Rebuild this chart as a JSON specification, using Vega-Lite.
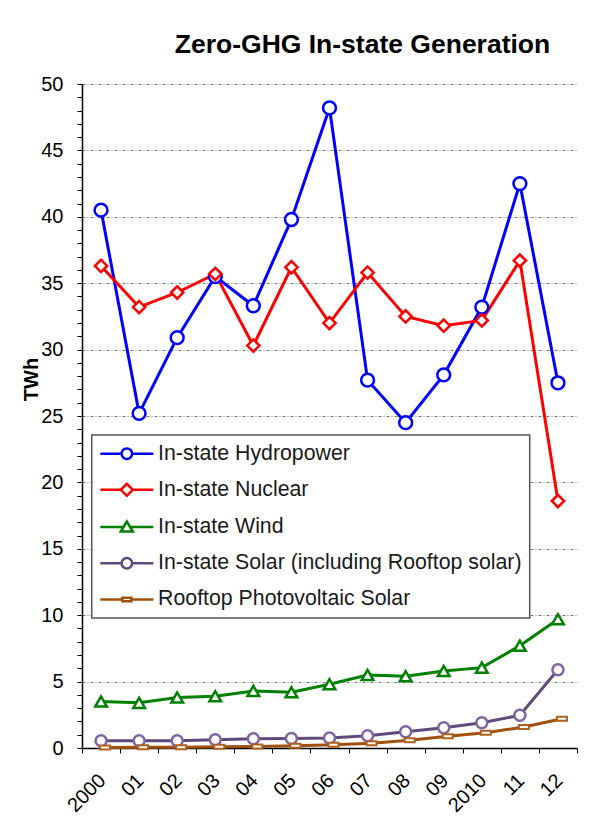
{
  "$schema": "https://vega.github.io/schema/vega-lite/v6.json",
  "width": 495,
  "height": 664,
  "autosize": {"type": "none"},
  "padding": {"left": 82, "top": 84, "right": 28, "bottom": 69},
  "background": "white",
  "title": {
    "text": "Zero-GHG In-state Generation",
    "font": "Liberation Sans",
    "fontSize": 26.5,
    "fontWeight": "bold",
    "color": "black",
    "anchor": "middle",
    "frame": "group",
    "dx": 33,
    "offset": 16
  },
  "data": {
    "values": [
      {"year": 2000, "series": "In-state Hydropower", "twh": 40.5},
      {"year": 2001, "series": "In-state Hydropower", "twh": 25.2},
      {"year": 2002, "series": "In-state Hydropower", "twh": 30.9},
      {"year": 2003, "series": "In-state Hydropower", "twh": 35.5},
      {"year": 2004, "series": "In-state Hydropower", "twh": 33.3},
      {"year": 2005, "series": "In-state Hydropower", "twh": 39.8},
      {"year": 2006, "series": "In-state Hydropower", "twh": 48.2},
      {"year": 2007, "series": "In-state Hydropower", "twh": 27.7},
      {"year": 2008, "series": "In-state Hydropower", "twh": 24.5},
      {"year": 2009, "series": "In-state Hydropower", "twh": 28.1},
      {"year": 2010, "series": "In-state Hydropower", "twh": 33.2},
      {"year": 2011, "series": "In-state Hydropower", "twh": 42.5},
      {"year": 2012, "series": "In-state Hydropower", "twh": 27.5},
      {"year": 2000, "series": "In-state Nuclear", "twh": 36.3},
      {"year": 2001, "series": "In-state Nuclear", "twh": 33.2},
      {"year": 2002, "series": "In-state Nuclear", "twh": 34.3},
      {"year": 2003, "series": "In-state Nuclear", "twh": 35.7},
      {"year": 2004, "series": "In-state Nuclear", "twh": 30.3},
      {"year": 2005, "series": "In-state Nuclear", "twh": 36.2},
      {"year": 2006, "series": "In-state Nuclear", "twh": 32.0},
      {"year": 2007, "series": "In-state Nuclear", "twh": 35.8},
      {"year": 2008, "series": "In-state Nuclear", "twh": 32.5},
      {"year": 2009, "series": "In-state Nuclear", "twh": 31.8},
      {"year": 2010, "series": "In-state Nuclear", "twh": 32.2},
      {"year": 2011, "series": "In-state Nuclear", "twh": 36.7},
      {"year": 2012, "series": "In-state Nuclear", "twh": 18.6},
      {"year": 2000, "series": "In-state Wind", "twh": 3.5},
      {"year": 2001, "series": "In-state Wind", "twh": 3.4},
      {"year": 2002, "series": "In-state Wind", "twh": 3.8},
      {"year": 2003, "series": "In-state Wind", "twh": 3.9},
      {"year": 2004, "series": "In-state Wind", "twh": 4.3},
      {"year": 2005, "series": "In-state Wind", "twh": 4.2},
      {"year": 2006, "series": "In-state Wind", "twh": 4.8},
      {"year": 2007, "series": "In-state Wind", "twh": 5.5},
      {"year": 2008, "series": "In-state Wind", "twh": 5.4},
      {"year": 2009, "series": "In-state Wind", "twh": 5.8},
      {"year": 2010, "series": "In-state Wind", "twh": 6.05},
      {"year": 2011, "series": "In-state Wind", "twh": 7.7},
      {"year": 2012, "series": "In-state Wind", "twh": 9.7},
      {"year": 2000, "series": "In-state Solar (including Rooftop solar)", "twh": 0.55},
      {"year": 2001, "series": "In-state Solar (including Rooftop solar)", "twh": 0.55},
      {"year": 2002, "series": "In-state Solar (including Rooftop solar)", "twh": 0.55},
      {"year": 2003, "series": "In-state Solar (including Rooftop solar)", "twh": 0.62},
      {"year": 2004, "series": "In-state Solar (including Rooftop solar)", "twh": 0.7},
      {"year": 2005, "series": "In-state Solar (including Rooftop solar)", "twh": 0.72},
      {"year": 2006, "series": "In-state Solar (including Rooftop solar)", "twh": 0.75},
      {"year": 2007, "series": "In-state Solar (including Rooftop solar)", "twh": 0.93},
      {"year": 2008, "series": "In-state Solar (including Rooftop solar)", "twh": 1.23},
      {"year": 2009, "series": "In-state Solar (including Rooftop solar)", "twh": 1.53},
      {"year": 2010, "series": "In-state Solar (including Rooftop solar)", "twh": 1.9},
      {"year": 2011, "series": "In-state Solar (including Rooftop solar)", "twh": 2.46},
      {"year": 2012, "series": "In-state Solar (including Rooftop solar)", "twh": 5.9},
      {"year": 2000, "series": "Rooftop Photovoltaic Solar", "twh": 0.04},
      {"year": 2001, "series": "Rooftop Photovoltaic Solar", "twh": 0.05},
      {"year": 2002, "series": "Rooftop Photovoltaic Solar", "twh": 0.06},
      {"year": 2003, "series": "Rooftop Photovoltaic Solar", "twh": 0.09},
      {"year": 2004, "series": "Rooftop Photovoltaic Solar", "twh": 0.12},
      {"year": 2005, "series": "Rooftop Photovoltaic Solar", "twh": 0.17},
      {"year": 2006, "series": "Rooftop Photovoltaic Solar", "twh": 0.25},
      {"year": 2007, "series": "Rooftop Photovoltaic Solar", "twh": 0.35},
      {"year": 2008, "series": "Rooftop Photovoltaic Solar", "twh": 0.58},
      {"year": 2009, "series": "Rooftop Photovoltaic Solar", "twh": 0.88},
      {"year": 2010, "series": "Rooftop Photovoltaic Solar", "twh": 1.15},
      {"year": 2011, "series": "Rooftop Photovoltaic Solar", "twh": 1.58},
      {"year": 2012, "series": "Rooftop Photovoltaic Solar", "twh": 2.2}
    ]
  },
  "encoding": {
    "x": {
      "field": "year",
      "type": "ordinal",
      "scale": {"type": "band", "paddingInner": 0, "paddingOuter": 0},
      "axis": {
        "title": null,
        "labelExpr": "datum.label == '2000' || datum.label == '2010' ? datum.label : substring(datum.label, 2)",
        "labelAngle": -45,
        "labelFont": "Liberation Sans",
        "labelFontSize": 20,
        "labelColor": "black",
        "labelPadding": 17,
        "labelOffset": -6,
        "tickBand": "extent",
        "tickSize": 5,
        "tickColor": "black",
        "domainColor": "black",
        "domainWidth": 1.5,
        "grid": false
      }
    },
    "y": {
      "field": "twh",
      "type": "quantitative",
      "scale": {"domain": [0, 50], "nice": false, "zero": true},
      "axis": {
        "title": "TWh",
        "titleFont": "Liberation Sans",
        "titleFontSize": 20,
        "titleFontWeight": "bold",
        "titleColor": "black",
        "titleX": -41,
        "titleY": 295,
        "titleBaseline": "bottom",
        "tickCount": 50,
        "labelExpr": "datum.value % 5 === 0 ? datum.label : ''",
        "labelOverlap": false,
        "labelFont": "Liberation Sans",
        "labelFontSize": 20,
        "labelColor": "black",
        "labelPadding": 14,
        "tickSize": 5,
        "tickColor": "black",
        "domainColor": "black",
        "domainWidth": 1.5,
        "grid": true,
        "gridColor": "#7a7a7a",
        "gridDash": [3, 2, 1, 2],
        "gridOpacity": {"condition": {"test": "datum.value % 5 === 0 && datum.value > 0", "value": 1}, "value": 0}
      }
    }
  },
  "layer": [
    {
      "transform": [{"filter": "datum.series !== 'Rooftop Photovoltaic Solar'"}],
      "mark": {"type": "line", "strokeWidth": 3},
      "encoding": {
        "color": {
          "field": "series",
          "type": "nominal",
          "scale": {
            "domain": ["In-state Hydropower", "In-state Nuclear", "In-state Wind", "In-state Solar (including Rooftop solar)", "Rooftop Photovoltaic Solar"],
            "range": ["#0000ff", "#ff0000", "#008000", "#604a7b", "#a0500f"]
          },
          "legend": {
            "title": null,
            "orient": "none",
            "legendX": 9.7,
            "legendY": 351,
            "padding": 8,
            "fillColor": "white",
            "strokeColor": "#555555",
            "labelFont": "Liberation Sans",
            "labelFontSize": 21.3,
            "labelColor": "#1a1a1a",
            "labelLimit": 600,
            "labelOffset": 20.6,
            "symbolOffset": 16.5,
            "symbolSize": 100,
            "symbolStrokeWidth": 2.5,
            "rowPadding": 14.2,
            "encode": {
              "legend": {"update": {"strokeWidth": {"value": 1.5}}},
              "symbols": {
                "update": {
                  "fill": {"value": "white"},
                  "shape": {"signal": "datum.value === 'In-state Nuclear' ? 'M-5.3,0H-1.2M1.2,0H5.3M0,-1.2L1.2,0L0,1.2L-1.2,0Z' : datum.value === 'In-state Wind' ? 'M-5.3,0H-0.66M0.66,0H5.3M0,-1.1L1.2,0.9L-1.2,0.9Z' : datum.value === 'Rooftop Photovoltaic Solar' ? 'M-5.3,0H-0.9M0.9,0H5.3M-0.9,-0.35H0.9V0.35H-0.9Z' : 'M-5.3,0H-1.05M1.05,0H5.3M1.05,0A1.05,1.05 0 1 1 -1.05,0A1.05,1.05 0 1 1 1.05,0Z'"}
                }
              }
            }
          }
        }
      }
    },
    {
      "transform": [{"filter": "datum.series === 'Rooftop Photovoltaic Solar'"}],
      "mark": {"type": "line", "strokeWidth": 3, "xOffset": 4},
      "encoding": {
        "color": {"field": "series", "type": "nominal"}
      }
    },
    {
      "transform": [{"filter": "datum.series !== 'Rooftop Photovoltaic Solar'"}],
      "mark": {"type": "point", "filled": true, "fill": "white", "strokeWidth": 2.5, "opacity": 1},
      "encoding": {
        "stroke": {
          "field": "series",
          "type": "nominal",
          "scale": {
            "domain": ["In-state Hydropower", "In-state Nuclear", "In-state Wind", "In-state Solar (including Rooftop solar)"],
            "range": ["#0000ff", "#ff0000", "#008000", "#8064a2"]
          },
          "legend": null
        },
        "shape": {
          "field": "series",
          "type": "nominal",
          "scale": {
            "domain": ["In-state Hydropower", "In-state Nuclear", "In-state Wind", "In-state Solar (including Rooftop solar)"],
            "range": ["circle", "diamond", "triangle-up", "circle"]
          },
          "legend": null
        },
        "size": {
          "field": "series",
          "type": "nominal",
          "scale": {
            "domain": ["In-state Hydropower", "In-state Nuclear", "In-state Wind", "In-state Solar (including Rooftop solar)"],
            "range": [165, 121, 196, 135]
          },
          "legend": null
        }
      }
    },
    {
      "transform": [{"filter": "datum.series === 'Rooftop Photovoltaic Solar'"}],
      "mark": {"type": "point", "filled": true, "fill": "white", "stroke": "#b0601c", "strokeWidth": 2, "opacity": 1, "shape": "M-1,-0.4H1V0.4H-1Z", "size": 100, "xOffset": 4}
    }
  ],
  "resolve": {"scale": {"stroke": "independent", "shape": "independent", "size": "independent"}},
  "config": {
    "view": {"stroke": null},
    "font": "Liberation Sans"
  }
}
